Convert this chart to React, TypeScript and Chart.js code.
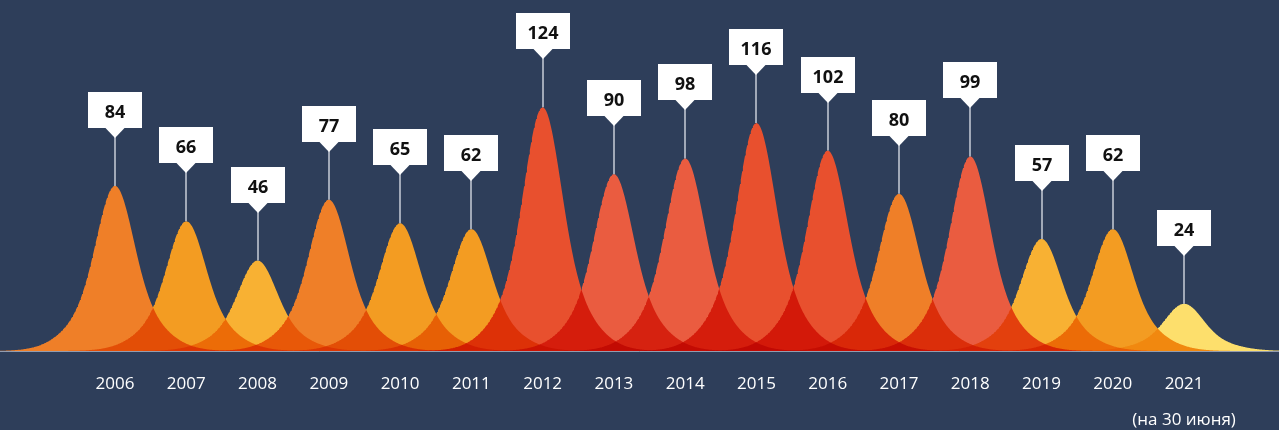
import { useEffect, useRef } from 'react';
import { Chart, registerables } from 'chart.js';

Chart.register(...registerables);

// ---- data ----
const years = [2006, 2007, 2008, 2009, 2010, 2011, 2012, 2013, 2014, 2015, 2016, 2017, 2018, 2019, 2020, 2021];
const counts = [84, 66, 46, 77, 65, 62, 124, 90, 98, 116, 102, 80, 99, 57, 62, 24];
const tickLabels: (string | string[])[] = [
  '2006', '2007', '2008', '2009', '2010', '2011', '2012', '2013',
  '2014', '2015', '2016', '2017', '2018', '2019', '2020',
  ['2021', '', '(на 30 июня)'],
];
const peakColors = [
  '#ef7f28', '#f39c22', '#f8b133', '#ef7f28', '#f39c22', '#f39c22', '#e8502e', '#ea5c40',
  '#ea5c40', '#e8502e', '#e8502e', '#ef7f28', '#ea5c40', '#f8b133', '#f39c22', '#fddf6c',
];

// ---- styling ----
const BG = '#2e3e5a';
const X_MIN = 2004.3864;
const X_MAX = 2022.332;
const Y_MIN = -11.705;
const Y_MAX = 178.63;
const FONT = '"Open Sans", "Noto Sans", sans-serif';

// bell-shaped mark profile (shape of each peak, scaled by its value)
const CORE_SIGMA = 0.2385;
const WING_SIGMA = 0.477;
const CORE_SHARE = 0.6;
function bellProfile(d: number) {
  return CORE_SHARE * Math.exp(-(d * d) / (2 * CORE_SIGMA * CORE_SIGMA)) +
    (1 - CORE_SHARE) * Math.exp(-(d * d) / (2 * WING_SIGMA * WING_SIGMA));
}
function bellPoints(center: number, value: number) {
  const pts: { x: number; y: number }[] = [];
  for (let k = -180; k <= 180; k++) {
    const d = k / 100;
    pts.push({ x: center + d, y: value * bellProfile(d) });
  }
  return pts;
}

const multiplyPlugin = {
  id: 'multiplyBlend',
  beforeDatasetsDraw(chart: any) {
    chart.ctx.save();
    chart.ctx.globalCompositeOperation = 'multiply';
  },
  afterDatasetsDraw(chart: any) {
    chart.ctx.restore();
  },
};

const calloutPlugin = {
  id: 'callouts',
  afterDraw(chart: any) {
    const { ctx } = chart;
    const xs = chart.scales.x;
    const ys = chart.scales.y;
    ctx.save();
    years.forEach((yr, i) => {
      const px = Math.round(xs.getPixelForValue(yr));
      const py = ys.getPixelForValue(counts[i]);
      const boxTop = Math.round(py - 94);
      const boxBottom = boxTop + 36;
      const w = 54;
      ctx.strokeStyle = '#c9ced8';
      ctx.lineWidth = 1.5;
      ctx.beginPath();
      ctx.moveTo(px, boxBottom + 6);
      ctx.lineTo(px, py);
      ctx.stroke();
      ctx.fillStyle = '#ffffff';
      ctx.fillRect(px - w / 2, boxTop, w, 36);
      ctx.beginPath();
      ctx.moveTo(px - 10, boxBottom - 0.5);
      ctx.lineTo(px + 10, boxBottom - 0.5);
      ctx.lineTo(px, boxBottom + 10);
      ctx.closePath();
      ctx.fill();
      ctx.fillStyle = '#111111';
      ctx.font = `bold 18px ${FONT}`;
      ctx.textAlign = 'center';
      ctx.textBaseline = 'alphabetic';
      ctx.fillText(String(counts[i]), px, boxTop + 26);
    });
    ctx.restore();
  },
};

export default function App() {
  const ref = useRef<HTMLCanvasElement>(null);
  useEffect(() => {
    document.body.style.margin = '0';
    const canvas = ref.current;
    if (!canvas) return;
    const chart = new Chart(canvas, {
      type: 'line',
      data: {
        datasets: years.map((yr, i) => ({
          label: String(yr),
          data: bellPoints(yr, counts[i]),
          backgroundColor: peakColors[i],
          borderColor: 'rgba(0,0,0,0)',
          borderWidth: 0,
          pointRadius: 0,
          fill: 'origin',
          tension: 0,
        })),
      },
      options: {
        animation: false,
        responsive: false,
        devicePixelRatio: 1,
        events: [],
        layout: { padding: 0 },
        plugins: {
          legend: { display: false },
          tooltip: { enabled: false },
          title: { display: false },
        },
        scales: {
          x: {
            type: 'linear',
            min: X_MIN,
            max: X_MAX,
            border: { display: false },
            grid: { display: false, drawTicks: false },
            afterBuildTicks: (s: any) => {
              s.ticks = years.map((v) => ({ value: v }));
            },
            ticks: {
              autoSkip: false,
              maxRotation: 0,
              padding: 1,
              color: '#ffffff',
              font: { family: FONT, size: 17, lineHeight: '18px' },
              callback: (_v: any, i: number) => tickLabels[i],
            },
          },
          y: {
            type: 'linear',
            min: Y_MIN,
            max: Y_MAX,
            border: { display: false },
            grid: { drawTicks: false, color: 'rgba(215,220,232,0.6)', lineWidth: 1, z: 1 },
            afterBuildTicks: (s: any) => {
              s.ticks = [{ value: 0 }];
            },
            ticks: { display: false },
          },
        },
      },
      plugins: [multiplyPlugin, calloutPlugin],
    } as any);
    return () => chart.destroy();
  }, []);
  return (
    <div style={{ width: 1279, height: 430, background: BG, position: 'relative', overflow: 'hidden' }}>
      <canvas ref={ref} width={1279} height={430} style={{ display: 'block' }} />
    </div>
  );
}
